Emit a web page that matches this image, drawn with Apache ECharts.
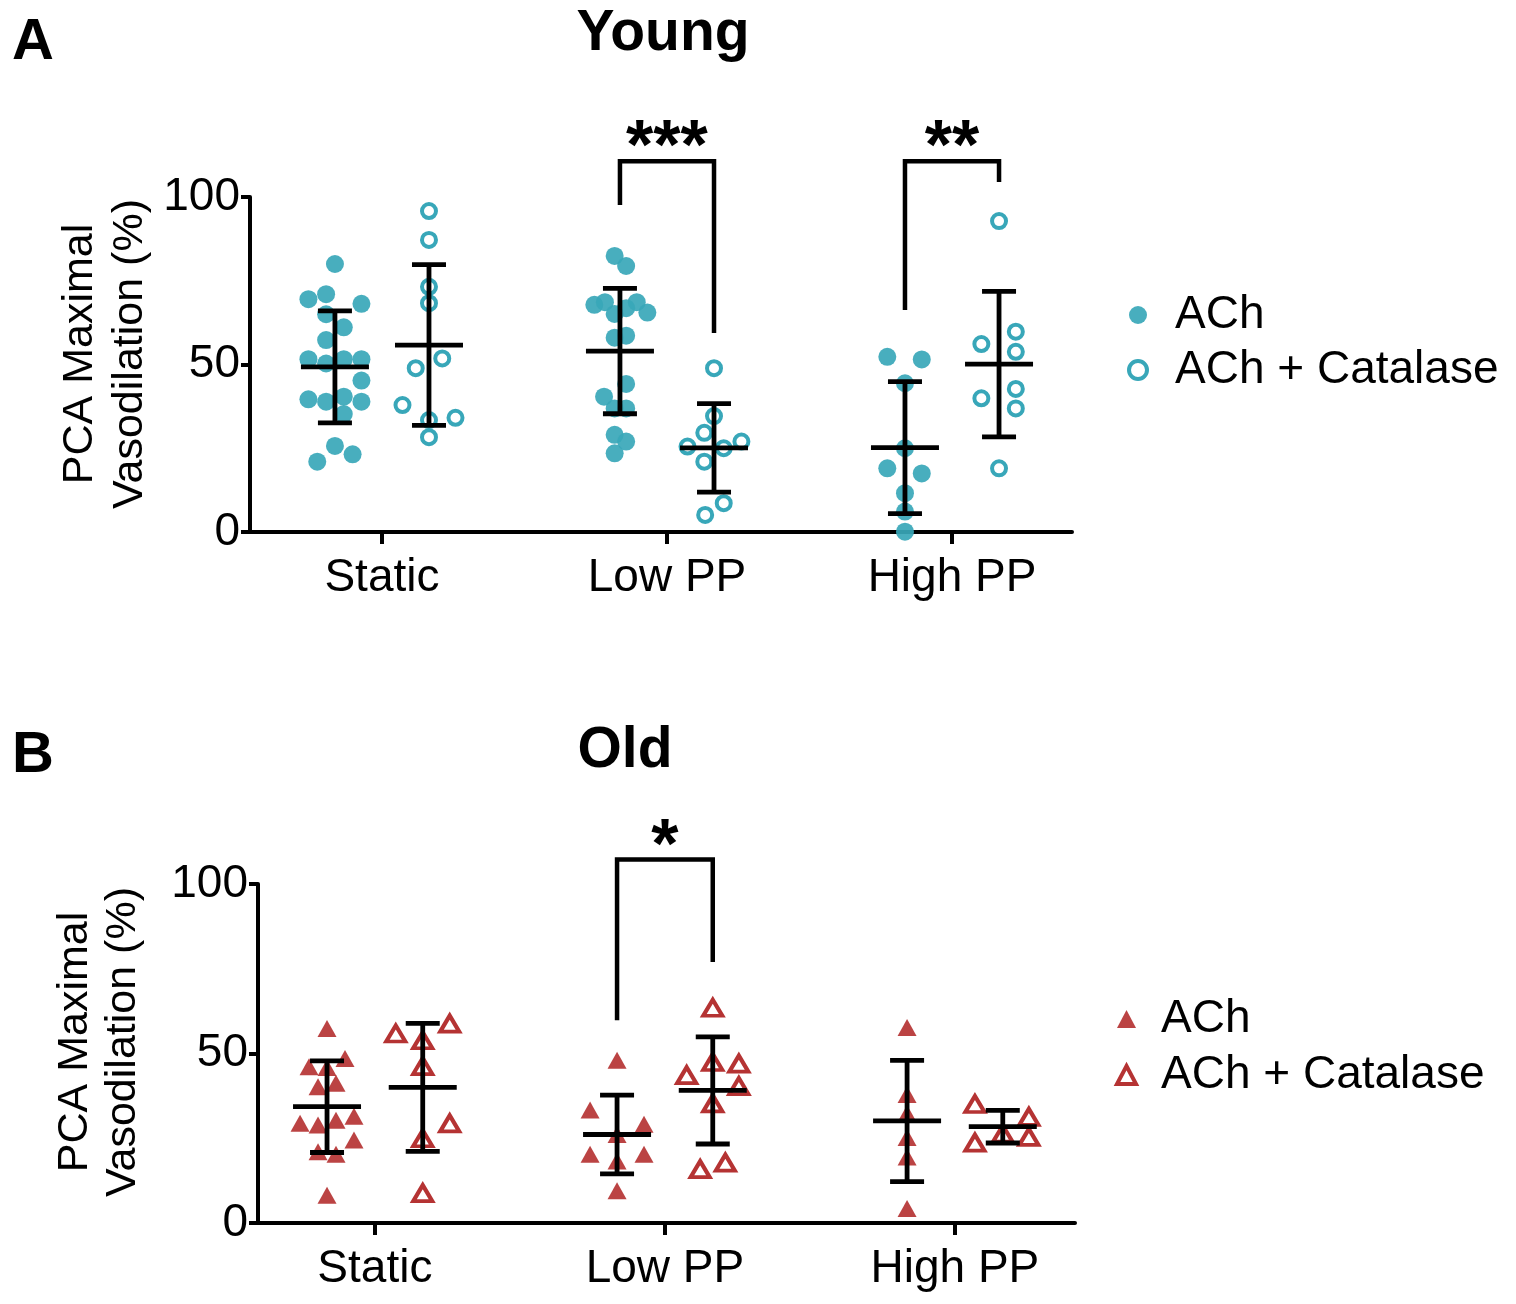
<!DOCTYPE html>
<html>
<head>
<meta charset="utf-8">
<script src="https://cdn.jsdelivr.net/npm/echarts@6/dist/echarts.min.js"></script>
<style>
html,body{margin:0;padding:0;background:#fff;}
#chart{width:1516px;height:1304px;}
</style>
</head>
<body>
<div id="chart"></div>
<script>
// ---------- DATA ----------
const categories = ['Static', 'Low PP', 'High PP'];
const yTicks = [0, 50, 100];
const legendNames = ['ACh', 'ACh + Catalase'];

// Young (panel A) – individual values per group [Static, Low PP, High PP]
const youngAChValues = [
  [80.0, 69.5, 71.0, 68.1, 65.0, 61.1, 57.3, 51.6, 50.3, 51.6, 51.6, 45.2, 39.6, 38.9, 40.4, 38.9, 35.2, 25.7, 23.2, 21.0],
  [82.4, 79.4, 67.8, 68.6, 68.6, 65.1, 66.8, 65.5, 58.6, 58.0, 44.2, 40.4, 36.9, 36.9, 29.0, 27.0, 23.5],
  [52.3, 51.5, 44.4, 25.0, 19.0, 17.5, 11.6, 6.1, 0.1]
];
const youngAChJitter = [
  [0, -3, -1, 3, -1, 1, -1, -3, -1, 1, 3, 3, -3, -1, 1, 3, 1, 0, 2, -2],
  [-0.6, 0.7, -2.9, -1.7, 1.9, -0.6, 0.7, 3.1, 0.7, -0.6, 0.7, -1.8, -0.6, 0.7, -0.6, 0.7, -0.6],
  [-2, 1.9, 0, 0, -2, 1.9, 0, 0, 0]
];
const youngCatValues = [
  [95.8, 87.2, 73.2, 68.3, 51.8, 48.9, 37.9, 33.4, 34.1, 28.3],
  [48.9, 34.6, 29.6, 25.5, 21.0, 25.0, 27.0, 8.6, 5.1],
  [92.8, 59.8, 56.1, 53.8, 42.7, 39.9, 36.9, 19.0]
];
const youngCatJitter = [
  [0, 0, 0, 0, 1.5, -1.5, -3, 0, 3, 0],
  [0, 0, -1.1, -3, -1.1, 1.1, 3.1, 1.1, -1],
  [0, 1.9, -2, 1.9, 1.9, -2, 1.9, 0]
];
const youngAChMean = [49.3, 54.0, 25.2];
const youngAChSD = [16.7, 18.7, 19.7];
const youngCatMean = [55.8, 25.1, 50.1];
const youngCatSD = [24.0, 13.2, 21.7];
// brackets: [group, left end, right end, top]
const youngBrackets = [[2, 97.6, 59.4, 110.7], [3, 66.3, 104.5, 110.7]];
const youngBracketLabels = ['***', '**'];

// Old (panel B)
const oldAChValues = [
  [57.4, 48.5, 46.1, 45.9, 40.2, 41.2, 29.4, 28.9, 30.3, 31.5, 24.5, 21.0, 20.3, 8.2],
  [48.0, 33.3, 29.1, 26.1, 20.3, 20.3, 18.3, 9.5],
  [57.7, 37.9, 32.3, 25.2, 19.5, 4.3]
];
const oldAChJitter = [
  [0, 2, -2, 0, -1, 1, -3, -1, 1, 3, 3, -1, 1, 0],
  [0, -3, 3, 0, -3, 3, 0, 0],
  [0, 0, 0, 0, 0, 0]
];
const oldCatValues = [
  [55.9, 58.8, 53.9, 46.3, 29.4, 25.0, 8.8],
  [63.5, 47.5, 47.0, 43.6, 40.4, 35.3, 15.9, 17.8],
  [35.1, 31.3, 26.4, 23.7, 25.4]
];
const oldCatJitter = [
  [-3, 3, 0, 0, 3, 0, 0],
  [0, 0, 2.9, -2.9, 2.9, 0, -1.4, 1.4],
  [-3.1, 2.9, 0, -3.1, 2.9]
];
const oldAChMean = [34.3, 26.1, 30.1];
const oldAChSD = [13.5, 11.6, 17.9];
const oldCatMean = [40.0, 39.1, 28.4];
const oldCatSD = [18.9, 15.8, 4.8];
const oldBrackets = [[2, 59.8, 77.0, 107.2]];
const oldBracketLabels = ['*'];

// ---------- LAYOUT / STYLE ----------
const SIDE = 0.165;   // offset of each treatment from the group centre
const SLOT = 0.031;   // jitter slot width
const TEAL = '#38a7b9';
const RED = '#b53333';
const FONT = 'Arial, "Liberation Sans", Helvetica, sans-serif';

function pointData(values, jitter, side) {
  const out = [];
  values.forEach((arr, g) => arr.forEach((v, i) => out.push([g + 1 + side + jitter[g][i] * SLOT, v])));
  return out;
}
function errData(mean, sd, side) {
  return mean.map((m, g) => [g + 1 + side, m, sd[g]]);
}
function renderErr(params, api) {
  const x = api.value(0), m = api.value(1), s = api.value(2);
  const c = api.coord([x, m]), t = api.coord([x, m + s]), b = api.coord([x, m - s]);
  const st = { stroke: '#000', lineWidth: 4.8 };
  return {
    type: 'group', children: [
      { type: 'line', shape: { x1: c[0] - 34, y1: c[1], x2: c[0] + 34, y2: c[1] }, style: st },
      { type: 'line', shape: { x1: c[0], y1: t[1], x2: c[0], y2: b[1] }, style: st },
      { type: 'line', shape: { x1: c[0] - 17, y1: t[1], x2: c[0] + 17, y2: t[1] }, style: st },
      { type: 'line', shape: { x1: c[0] - 17, y1: b[1], x2: c[0] + 17, y2: b[1] }, style: st }
    ]
  };
}
function makeBracketRenderer(labels) {
  return function (params, api) {
    const g = api.value(0);
    const lx = g - SIDE, rx = g + SIDE;
    const pL = api.coord([lx, api.value(1)]);
    const pR = api.coord([rx, api.value(2)]);
    const tL = api.coord([lx, api.value(3)]);
    const tR = api.coord([rx, api.value(3)]);
    return {
      type: 'group', children: [
        { type: 'polyline', shape: { points: [pL, tL, tR, pR] }, style: { stroke: '#000', lineWidth: 4.5, fill: null, lineJoin: 'miter' } },
        { type: 'text', x: (tL[0] + tR[0]) / 2, y: tL[1] - 11,
          style: { text: labels[params.dataIndex], font: 'bold 70px ' + FONT, fill: '#000', textAlign: 'center', textVerticalAlign: 'middle' } }
      ]
    };
  };
}

function xAxisCfg(gridIndex, min, max) {
  return {
    type: 'value', gridIndex, min, max,
    splitLine: { show: false },
    axisLine: { show: true, lineStyle: { color: '#000', width: 4 } },
    axisTick: { show: true, customValues: [1, 2, 3], length: 12, lineStyle: { color: '#000', width: 4 } },
    axisLabel: { customValues: [1, 2, 3], formatter: v => categories[Math.round(v) - 1] || '',
      fontSize: 46, color: '#000', fontFamily: FONT, margin: 23 }
  };
}
function yAxisCfg(gridIndex) {
  return {
    type: 'value', gridIndex, min: yTicks[0], max: yTicks[yTicks.length - 1], interval: 50,
    splitLine: { show: false },
    axisLine: { show: true, lineStyle: { color: '#000', width: 4 } },
    axisTick: { show: true, length: 9, lineStyle: { color: '#000', width: 4 } },
    axisLabel: { fontSize: 46, color: '#000', fontFamily: FONT, margin: 10 }
  };
}

const filledStyle = c => ({ color: c, opacity: 0.92 });
const openStyle = c => ({ color: '#fff', borderColor: c, borderWidth: 4, opacity: 1 });

const option = {
  animation: false,
  backgroundColor: '#fff',
  textStyle: { fontFamily: FONT },
  grid: [
    { left: 250, right: 444, top: 197, bottom: 772 },
    { left: 258, right: 441, top: 884, bottom: 81 }
  ],
  xAxis: [xAxisCfg(0, 0.537, 3.421), xAxisCfg(1, 0.597, 3.414)],
  yAxis: [yAxisCfg(0), yAxisCfg(1)],
  legend: [
    { data: [{ name: 'ACh' }, { name: 'ACh + Catalase', itemStyle: { borderWidth: 4 } }],
      orient: 'vertical', left: 1122, top: 285,
      itemWidth: 18, itemHeight: 18, itemGap: 5, selectedMode: false,
      textStyle: { fontSize: 46, color: '#000', fontFamily: FONT, lineHeight: 50, padding: [0, 0, 0, 23] } },
    { data: [{ name: 'ACh|B' }, { name: 'ACh + Catalase|B', itemStyle: { borderWidth: 4 } }],
      orient: 'vertical', left: 1110, top: 989,
      itemWidth: 19, itemHeight: 18, itemGap: 6, selectedMode: false,
      formatter: n => n.split('|')[0],
      textStyle: { fontSize: 46, color: '#000', fontFamily: FONT, lineHeight: 50, padding: [0, 0, 0, 20] } }
  ],
  graphic: [
    { type: 'text', left: 12, top: 14, style: { text: 'A', font: 'bold 58px ' + FONT, fill: '#000' } },
    { type: 'text', x: 663, y: 34, style: { text: 'Young', font: 'bold 57px ' + FONT, fill: '#000', textAlign: 'center', textVerticalAlign: 'middle' } },
    { type: 'text', left: 12, top: 727, style: { text: 'B', font: 'bold 58px ' + FONT, fill: '#000' } },
    { type: 'text', x: 625, y: 751, style: { text: 'Old', font: 'bold 57px ' + FONT, fill: '#000', textAlign: 'center', textVerticalAlign: 'middle' } },
    { type: 'text', x: 105, y: 354, rotation: Math.PI / 2,
      style: { text: 'PCA Maximal\nVasodilation (%)', font: '43px ' + FONT, lineHeight: 50, fill: '#000', textAlign: 'center', textVerticalAlign: 'middle' } },
    { type: 'text', x: 99, y: 1042, rotation: Math.PI / 2,
      style: { text: 'PCA Maximal\nVasodilation (%)', font: '43px ' + FONT, lineHeight: 48, fill: '#000', textAlign: 'center', textVerticalAlign: 'middle' } }
  ],
  series: [
    { name: 'ACh', type: 'scatter', xAxisIndex: 0, yAxisIndex: 0, symbol: 'circle', symbolSize: 18,
      itemStyle: filledStyle(TEAL), data: pointData(youngAChValues, youngAChJitter, -SIDE), z: 2 },
    { name: 'ACh + Catalase', type: 'scatter', xAxisIndex: 0, yAxisIndex: 0, symbol: 'circle', symbolSize: 14,
      itemStyle: openStyle(TEAL), data: pointData(youngCatValues, youngCatJitter, SIDE), z: 2 },
    { name: 'ACh|B', type: 'scatter', xAxisIndex: 1, yAxisIndex: 1, symbol: 'triangle', symbolSize: [19, 17],
      itemStyle: filledStyle(RED), data: pointData(oldAChValues, oldAChJitter, -SIDE), z: 2 },
    { name: 'ACh + Catalase|B', type: 'scatter', xAxisIndex: 1, yAxisIndex: 1, symbol: 'triangle', symbolSize: [19, 16],
      itemStyle: openStyle(RED), data: pointData(oldCatValues, oldCatJitter, SIDE), z: 2 },

    { type: 'custom', xAxisIndex: 0, yAxisIndex: 0, renderItem: renderErr, data: errData(youngAChMean, youngAChSD, -SIDE), z: 5, silent: true },
    { type: 'custom', xAxisIndex: 0, yAxisIndex: 0, renderItem: renderErr, data: errData(youngCatMean, youngCatSD, SIDE), z: 5, silent: true },
    { type: 'custom', xAxisIndex: 1, yAxisIndex: 1, renderItem: renderErr, data: errData(oldAChMean, oldAChSD, -SIDE), z: 5, silent: true },
    { type: 'custom', xAxisIndex: 1, yAxisIndex: 1, renderItem: renderErr, data: errData(oldCatMean, oldCatSD, SIDE), z: 5, silent: true },

    { type: 'custom', xAxisIndex: 0, yAxisIndex: 0, renderItem: makeBracketRenderer(youngBracketLabels), data: youngBrackets, z: 6, silent: true, clip: false },
    { type: 'custom', xAxisIndex: 1, yAxisIndex: 1, renderItem: makeBracketRenderer(oldBracketLabels), data: oldBrackets, z: 6, silent: true, clip: false }
  ]
};

const chart = echarts.init(document.getElementById('chart'), null, { renderer: 'canvas' });
chart.setOption(option);
</script>
</body>
</html>
